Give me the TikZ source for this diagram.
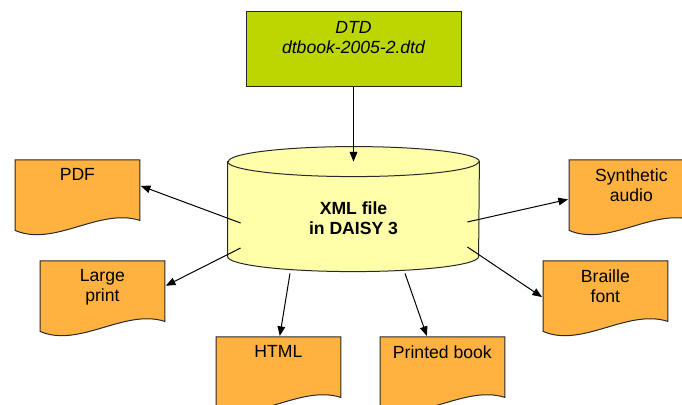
\documentclass[tikz,border=0pt]{standalone}
\usepackage{fontspec}
\setmainfont{Liberation Sans}
\usetikzlibrary{arrows.meta}
\usetikzlibrary{backgrounds}

\definecolor{dtdgreen}{RGB}{187,214,0}
\definecolor{docorange}{RGB}{255,178,64}
\definecolor{dbyellow}{RGB}{255,255,170}
\definecolor{edgegray}{RGB}{40,40,40}

\begin{document}
\begin{tikzpicture}[
	x=0.5pt,y=0.5pt,
	font=\fontsize{8.8}{10}\selectfont,
	toptext/.style={anchor=north,yshift=-4.6pt,inner sep=0pt,align=center},
	dtdbox/.style={
		draw=edgegray,fill=dtdgreen,line width=0.5pt,
		minimum width=107.5pt,minimum height=37.5pt,
	},
	db/.style={
		minimum width=125.5pt,minimum height=56pt,
		align=center,font=\fontsize{8.8}{10}\selectfont\bfseries,
	},
	doc/.style={
		anchor=north west,inner sep=0pt,
		minimum width=63pt,minimum height=40pt,
		path picture={
			\draw[edgegray,fill=docorange,line width=0.5pt]
				([shift={(0.6,-0.6)}]path picture bounding box.north west)
				-- ([shift={(125.4,-0.6)}]path picture bounding box.north west)
				-- ([shift={(125.4,-61)}]path picture bounding box.north west)
				.. controls ([shift={(85,-48)}]path picture bounding box.north west)
				and ([shift={(40,-88)}]path picture bounding box.north west)
				.. ([shift={(0.6,-71)}]path picture bounding box.north west) -- cycle;
		},
	},
	link/.style={-{Triangle[length=4.8pt,width=3.8pt]},line width=0.5pt},
]
\path[clip,use as bounding box] (0,0) rectangle (682,405);

% source and the DAISY file
\node [dtdbox,label={[toptext]90:{\itshape DTD\\\itshape dtbook-2005-2.dtd}}] (dtd) at (353.5,355.5) {};
\node [db] (db) at (353.5,187) {XML file\\in DAISY 3};
\begin{scope}[on background layer]
\draw[edgegray,fill=dbyellow,line width=0.5pt] (db.north west)
	-- ([shift={(0,-95)}]db.north west)
	arc[start angle=180,end angle=360,x radius=62.75pt,y radius=7.5pt]
	-- (db.north east)
	arc[start angle=0,end angle=180,x radius=62.75pt,y radius=7.5pt] -- cycle;
\draw[edgegray,line width=0.5pt] (db.north west)
	arc[start angle=180,end angle=360,x radius=62.75pt,y radius=7.5pt];
\end{scope}

% output formats
\node [doc,label={[toptext]90:PDF}] (pdf) at (14,246) {};
\node [doc,label={[toptext]90:{Large\\print}}] (large) at (39,145) {};
\node [doc,label={[toptext]90:{Synthetic\\audio}}] (synth) at (568,246) {};
\node [doc,label={[toptext]90:{Braille\\font}}] (braille) at (542,145) {};
\node [doc,label={[toptext]90:HTML}] (html) at (215,69) {};
\node [doc,label={[toptext]90:Printed book}] (book) at (379,69) {};

\coordinate (pdf-out) at ([shift={(13,-5)}]db.west);
\coordinate (large-out) at ([shift={(13,-30)}]db.west);
\coordinate (synth-out) at ([shift={(-12,-4)}]db.east);
\coordinate (braille-out) at ([shift={(-12,-29)}]db.east);
\coordinate (html-out) at ([shift={(-63.5,1)}]db.south);
\coordinate (book-out) at ([shift={(51.5,1)}]db.south);

\draw[link] (dtd) -- (db.north);
\draw[link] (pdf-out) -- (pdf.12);
\draw[link] (large-out) -- (large.13);
\draw[link] (synth-out) -- (synth.west);
\draw[link] (braille-out) -- (braille.177);
\draw[link] (html-out) -- (html.88);
\draw[link] (book-out) -- (book.111);
\end{tikzpicture}
\end{document}
